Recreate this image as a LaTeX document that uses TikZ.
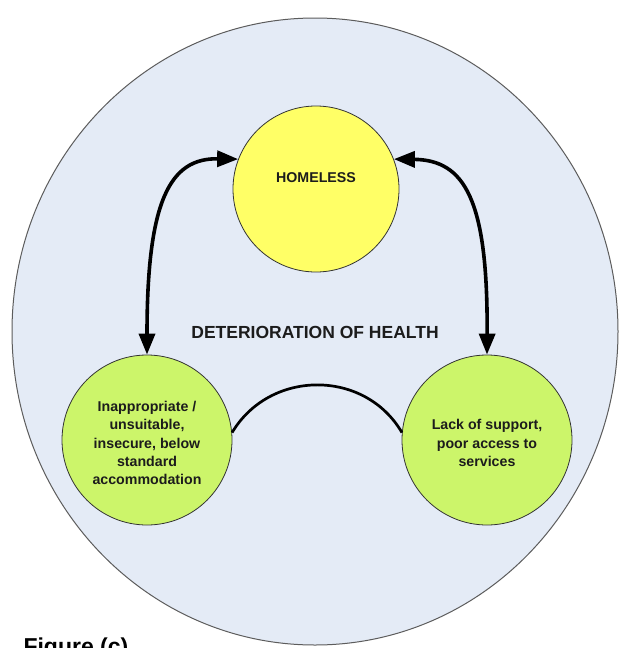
\documentclass[tikz,border=0pt]{standalone}
\usepackage{fontspec}
\setmainfont{Liberation Sans}
\usetikzlibrary{arrows.meta}
\definecolor{bgfill}{HTML}{E4EBF6}
\definecolor{bgline}{HTML}{5C5C5C}
\definecolor{homefill}{HTML}{FFFF66}
\definecolor{greenfill}{HTML}{CCF56A}
\definecolor{ink}{HTML}{1C1C1C}
\begin{document}
\begin{tikzpicture}[x=1pt,y=-1pt,
  bubble/.style={circle,draw=black!80,line width=0.8pt,inner sep=0pt,minimum size=#1},
  label text/.style={font=\bfseries\fontsize{14.2}{18.3}\selectfont,text=ink,align=center},
  link/.style={line width=3.6pt,black,{Triangle[length=21pt,width=16pt]}-{Triangle[length=21pt,width=16pt]}},
  tie/.style={line width=2.7pt,black}]
\useasboundingbox (0,0) rectangle (620,648);
\clip (0,0) rectangle (620,648);
\fill[white] (0,0) rectangle (620,648);

% outer field: deterioration of health
\draw[fill=bgfill,draw=bgline,line width=1pt] (315,331.5) ellipse [x radius=303, y radius=313.5];
\node[font=\bfseries\fontsize{17.5}{21}\selectfont,text=ink] (health) at (315,332) {DETERIORATION OF HEALTH};

% the three circles
\node[bubble=166pt,fill=homefill] (home) at (316,189) {};
\node[bubble=170pt,fill=greenfill] (lg) at (147,440) {};
\node[bubble=170pt,fill=greenfill] (rg) at (487,440) {};

\node[label text] (hometext) at (316,178) {HOMELESS};
\node[label text] (lgtext) at (147,443) {Inappropriate /\\unsuitable,\\insecure, below\\standard\\accommodation};
\node[label text] (rgtext) at (487,443) {Lack of support,\\poor access to\\services};

% two-way links and the bottom tie
\draw[link] (lg.north) .. controls (147,200) and (170,158) .. (home.159);
\draw[link] (rg.north) .. controls (488,200) and (465,160) .. (home.21);
\draw[tie] (lg.5) .. controls (270,369) and (365,369) .. (rg.175);

\node[font=\bfseries\fontsize{23}{26}\selectfont,anchor=base west] (caption) at (20,654) {Figure (c)};
\end{tikzpicture}
\end{document}
